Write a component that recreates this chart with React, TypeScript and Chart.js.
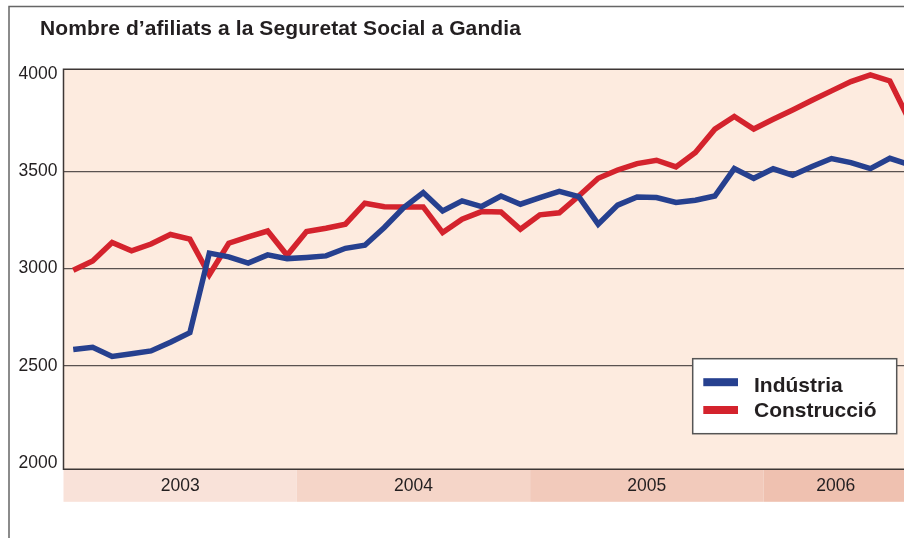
import React, { useEffect, useRef } from 'react';
import { Chart, registerables } from 'chart.js';

Chart.register(...registerables);

const titleText = 'Nombre d’afiliats a la Seguretat Social a Gandia';
const years = ['2003', '2004', '2005', '2006'];
const monthsPerYear = [12, 12, 12, 8];
const monthLabels = years.flatMap((y, i) =>
  Array.from({ length: monthsPerYear[i] }, (_, m) => `${y}-${String(m + 1).padStart(2, '0')}`)
);

const seriesNames = ['Indústria', 'Construcció'];

const industria = [
  2583, 2595, 2548, 2562, 2576, 2621, 2670, 3079, 3060, 3028, 3070, 3051,
  3057, 3065, 3104, 3120, 3211, 3314, 3391, 3296, 3348, 3319, 3373, 3331,
  3365, 3397, 3370, 3228, 3326, 3368, 3365, 3340, 3351, 3373, 3514, 3464,
  3513, 3480, 3525, 3566, 3545, 3514, 3567, 3534,
];

const construccio = [
  2991, 3039, 3134, 3091, 3126, 3175, 3151, 2968, 3130, 3163, 3193, 3068,
  3190, 3207, 3228, 3336, 3318, 3317, 3317, 3185, 3254, 3293, 3291, 3202,
  3276, 3287, 3373, 3464, 3507, 3540, 3557, 3523, 3597, 3717, 3782, 3718,
  3768, 3816, 3866, 3914, 3962, 3996, 3965, 3763,
];

const yTicks = [2000, 2500, 3000, 3500, 4000];
const gridTicks = [2500, 3000, 3500];

const FONT = '"Liberation Sans", Arial, Helvetica, sans-serif';
const TEXT = '#231f20';
const BLUE = '#26408f';
const RED = '#d4232d';
const bandColors = ['#f9e2d9', '#f5d5c8', '#f2cabb', '#efc1b0'];

const decorPlugin = {
  id: 'decor',
  beforeDraw(chart: any) {
    const { ctx, chartArea: a } = chart;
    ctx.save();
    // outer frame
    ctx.strokeStyle = '#666';
    ctx.lineWidth = 1.5;
    ctx.beginPath();
    ctx.moveTo(9, 540);
    ctx.lineTo(9, 6.5);
    ctx.lineTo(chart.width, 6.5);
    ctx.stroke();
    // title
    ctx.fillStyle = TEXT;
    ctx.font = `bold 21px ${FONT}`;
    (ctx as any).letterSpacing = '0.1px';
    ctx.textAlign = 'left';
    ctx.textBaseline = 'alphabetic';
    ctx.fillText(titleText, 40, 34.5);
    (ctx as any).letterSpacing = '0px';
    // plot background
    ctx.fillStyle = '#fdebdf';
    ctx.fillRect(a.left, a.top, a.right - a.left, a.bottom - a.top);
    // year bands
    const xs = chart.scales.x;
    let start = 0;
    years.forEach((yr, i) => {
      const end = start + monthsPerYear[i];
      const x0 = i === 0 ? a.left : (xs.getPixelForValue(start - 1) + xs.getPixelForValue(start)) / 2;
      const x1 = i === years.length - 1 ? a.right : (xs.getPixelForValue(end - 1) + xs.getPixelForValue(end)) / 2;
      ctx.fillStyle = bandColors[i];
      ctx.fillRect(x0, a.bottom, x1 - x0, 32.5);
      ctx.fillStyle = TEXT;
      ctx.font = `17.5px ${FONT}`;
      ctx.textAlign = 'center';
      ctx.textBaseline = 'middle';
      const visRight = Math.min(x1, 908);
      ctx.fillText(yr, (x0 + visRight) / 2, a.bottom + 16.5);
      start = end;
    });
    ctx.restore();
  },
  beforeDatasetsDraw(chart: any) {
    const { ctx, chartArea: a } = chart;
    ctx.save();
    ctx.strokeStyle = '#3d3735';
    ctx.lineWidth = 1.5;
    ctx.beginPath();
    ctx.moveTo(chart.width, a.top);
    ctx.lineTo(a.left, a.top);
    ctx.lineTo(a.left, a.bottom);
    ctx.lineTo(chart.width, a.bottom);
    ctx.stroke();
    ctx.restore();
  },
  afterDatasetsDraw(chart: any) {
    const { ctx } = chart;
    ctx.save();
    ctx.fillStyle = '#ffffff';
    ctx.fillRect(692.7, 358.7, 204, 75);
    ctx.strokeStyle = '#555';
    ctx.lineWidth = 1.5;
    ctx.strokeRect(692.7, 358.7, 204, 75);
    const rows = [382.2, 410];
    const bases = [392, 416.7];
    chart.data.datasets.forEach((ds: any, i: number) => {
      ctx.fillStyle = ds.borderColor;
      ctx.fillRect(703.3, rows[i] - 4, 34.7, 8);
      ctx.fillStyle = TEXT;
      ctx.font = `bold 21px ${FONT}`;
      ctx.textAlign = 'left';
      ctx.textBaseline = 'alphabetic';
      ctx.fillText(ds.label, 754, bases[i]);
    });
    ctx.restore();
  },
};

export default function App() {
  const ref = useRef<HTMLCanvasElement | null>(null);

  useEffect(() => {
    if (!ref.current) return;
    const chart = new Chart(ref.current, {
      type: 'line',
      data: {
        labels: monthLabels,
        datasets: [
          {
            label: seriesNames[0],
            data: industria,
            borderColor: BLUE,
            backgroundColor: BLUE,
            borderWidth: 5.5,
            pointRadius: 0,
            tension: 0,
            fill: false,
          },
          {
            label: seriesNames[1],
            data: construccio,
            borderColor: RED,
            backgroundColor: RED,
            borderWidth: 5.5,
            pointRadius: 0,
            tension: 0,
            fill: false,
          },
        ],
      },
      options: {
        responsive: false,
        animation: false,
        devicePixelRatio: 1,
        events: [],
        layout: { padding: { left: 0, right: 11, top: 69.3, bottom: 68.7 } },
        plugins: {
          legend: { display: false },
          tooltip: { enabled: false },
          title: { display: false },
        },
        scales: {
          x: {
            type: 'category',
            display: false,
            offset: true,
          },
          y: {
            min: 1967,
            max: 4025,
            afterBuildTicks: (scale: any) => {
              scale.ticks = yTicks.map((v) => ({ value: v }));
            },
            afterFit: (scale: any) => {
              scale.width = 63.5;
            },
            border: { display: false },
            grid: {
              drawTicks: false,
              lineWidth: 1.2,
              color: (c: any) => (gridTicks.includes(c.tick?.value) ? '#5a5250' : 'rgba(0,0,0,0)'),
            },
            ticks: {
              padding: 6,
              color: TEXT,
              font: { family: FONT, size: 17.5 },
              callback: (v: any) => String(v),
            },
          },
        },
      },
      plugins: [decorPlugin],
    } as any);
    return () => chart.destroy();
  }, []);

  return (
    <div
      style={{
        position: 'fixed',
        left: 0,
        top: 0,
        width: 904,
        height: 538,
        overflow: 'hidden',
        background: '#ffffff',
      }}
    >
      <canvas ref={ref} width={930} height={538} style={{ width: 930, height: 538, display: 'block' }} />
    </div>
  );
}
